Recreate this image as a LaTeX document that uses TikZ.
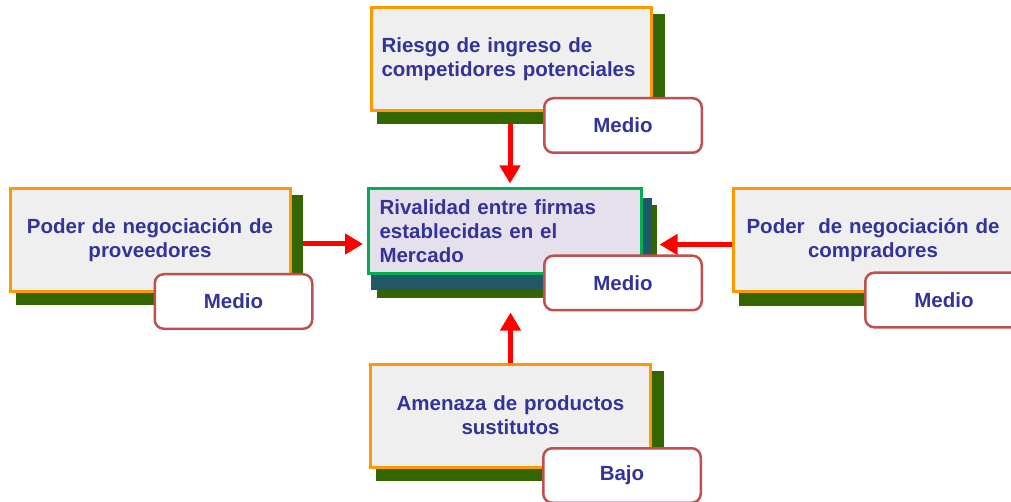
\documentclass[tikz,border=0pt]{standalone}
\usepackage{fontspec}
\setmainfont{Liberation Sans}
\usetikzlibrary{arrows.meta,backgrounds,calc}
\definecolor{forceorange}{RGB}{255,153,0}
\definecolor{boxgray}{RGB}{239,239,239}
\definecolor{shadowgreen}{RGB}{51,102,0}
\definecolor{shadowteal}{RGB}{33,88,104}
\definecolor{centergreen}{RGB}{0,176,80}
\definecolor{centerfill}{RGB}{230,224,236}
\definecolor{textblue}{RGB}{51,51,153}
\definecolor{labelred}{RGB}{192,80,77}
\definecolor{arrowred}{RGB}{255,0,0}
\tikzset{
  boxfont/.style={font=\fontsize{20.5}{24}\selectfont\bfseries, text=textblue},
  forcebox/.style={boxfont, draw=forceorange, line width=3pt, fill=boxgray,
    minimum width=280pt, minimum height=103pt, inner sep=0pt, align=center, text width=270pt},
  centerbox/.style={boxfont, draw=centergreen, line width=3pt, fill=centerfill,
    minimum width=273pt, minimum height=85pt, inner xsep=11pt, inner ysep=0pt, align=left, text width=251pt},
  levelbox/.style={boxfont, draw=labelred, line width=2.5pt, fill=white, rounded corners=9pt,
    minimum width=157.5pt, minimum height=54.5pt, inner sep=0pt},
  forcearrow/.style={draw=arrowred, line width=5pt, -{Triangle[length=18pt,width=20pt]}},
}
\begin{document}
\begin{tikzpicture}[x=1pt,y=-1pt]
\useasboundingbox (0,0) rectangle (1011,502);
\clip (0,0) rectangle (1011,502);

% boxes
\node[forcebox, align=left, text width=260pt] (top) at (511.5,59) {Riesgo de ingreso de\\competidores potenciales};
\node[forcebox] (left) at (150,240) {Poder de negociación de\\proveedores};
\node[forcebox] (right) at (873,240.5) {Poder~ de negociación de\\compradores};
\node[forcebox] (bottom) at (510.5,415.5) {Amenaza de productos\\sustitutos};
\node[centerbox] (center) at (505,231) {Rivalidad entre firmas\\establecidas en el\\Mercado};

\begin{scope}[on background layer]
  % shadows
  \foreach \b in {top,left,right,bottom}{
    \fill[shadowgreen] ($(\b.north west)+(7,8)$) rectangle ($(\b.south east)+(11.5,12.5)$);
  }
  \fill[shadowgreen] ($(center.north west)+(9.5,18.5)$) rectangle ($(center.south east)+(13.5,23.5)$);
  \fill[shadowteal] ($(center.north west)+(3.5,11.5)$) rectangle ($(center.south east)+(8.5,15.5)$);
  % arrows
  \draw[forcearrow, shorten <=12.5pt, shorten >=3.5pt] ([xshift=-1.5pt]top.south) -- ([xshift=-1.5pt]top.south |- center.north);
  \coordinate (leftend) at ($(center.west)+(-4,0)$);
  \draw[forcearrow, shorten <=11.5pt] ([yshift=-4pt]left.east) -- ([yshift=-4pt]left.east -| leftend);
  \coordinate (rightend) at ($(center.east)+(16.5,0)$);
  \draw[forcearrow] ([yshift=-4pt]right.west) -- ([yshift=-4pt]right.west -| rightend);
\end{scope}

% levels
\node[levelbox] (toplevel) at (623,125.5) {Medio};
\node[levelbox] (centerlevel) at (623,283) {Medio};
\node[levelbox] (leftlevel) at (233.5,301.5) {Medio};
\node[levelbox] (rightlevel) at (944,300) {Medio};
\node[levelbox] (bottomlevel) at (622,475.5) {Bajo};

\draw[forcearrow, shorten >=1pt] (bottom.north) -- (bottom.north |- centerlevel.south);
\end{tikzpicture}
\end{document}
